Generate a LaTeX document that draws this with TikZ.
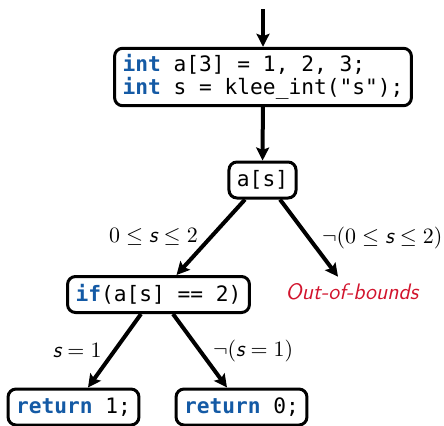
\documentclass[tikz,border=0pt]{standalone}
\usepackage{fontspec}
\setmonofont{DejaVu Sans Mono}
\usepackage{tikz}
\usetikzlibrary{arrows.meta,calc}
\usepackage{xcolor}
\definecolor{kwblue}{RGB}{20,90,165}
\definecolor{oobred}{RGB}{210,20,45}
\newcommand{\kw}[1]{\textcolor{kwblue}{\textbf{#1}}}
\newcommand{\sv}{\textsf{\itshape s}}

\begin{document}
\begin{tikzpicture}[x=0.5pt, y=-0.5pt,
    codebox/.style={draw, line width=1.5pt, rounded corners=4pt, fill=white,
      font=\ttfamily\fontsize{10.6}{11.2}\selectfont, align=left,
      inner xsep=4pt, inner ysep=3.2pt, minimum height=18pt},
    flow/.style={-{Stealth[length=6.5pt,width=6.5pt,inset=1.2pt]}, line width=2pt},
    guard/.style={font=\fontsize{11.2}{12}\selectfont, inner sep=0pt}]
    \useasboundingbox (0,0) rectangle (444,425);

    % ── Statements ────────────────────────────────────────────────────
    \coordinate (entry) at (263,9);
    \node[codebox] (decl) at (263,77)
      {\kw{int} a[3] = 1, 2, 3;\\\kw{int} s = klee\_int("s");};
    \node[codebox] (acc) at (262.5,180) {a[s]};
    \node[codebox] (ifs) at (158.5,294.5) {\kw{if}(a[s] == 2)};
    \node[font=\sffamily\itshape\fontsize{11.2}{12}\selectfont, text=oobred]
      (oob) at (352,292) {Out-of-bounds};
    \node[codebox] (ret1) at (73.5,407) {\kw{return} 1;};
    \node[codebox] (ret0) at (241.5,407) {\kw{return} 0;};

    % ── Control flow ──────────────────────────────────────────────────
    \draw[flow] (entry) -- (decl);
    \draw[flow] (decl) -- (acc);
    % array access: in / out of bounds
    \draw[flow] ([xshift=-8.75pt]acc.south) -- ([xshift=9pt]ifs.north)
      node[guard, midway, left=5.5pt] {$0 \leq \sv \leq 2$};
    \draw[flow] ([xshift=8.75pt]acc.south) -- ([xshift=-7pt]oob.north)
      node[guard, midway, right=5.5pt] {$\neg(0 \leq \sv \leq 2)$};
    % branch on the value read
    \draw[flow] ([xshift=-8.75pt]ifs.south) -- ([xshift=7.25pt]ret1.north)
      node[guard, midway, left=5.5pt] {$\sv = 1$};
    \draw[flow] ([xshift=7.25pt]ifs.south) -- ([xshift=-7.25pt]ret0.north)
      node[guard, midway, right=5.5pt] {$\neg(\sv = 1)$};
  \end{tikzpicture}
\end{document}
